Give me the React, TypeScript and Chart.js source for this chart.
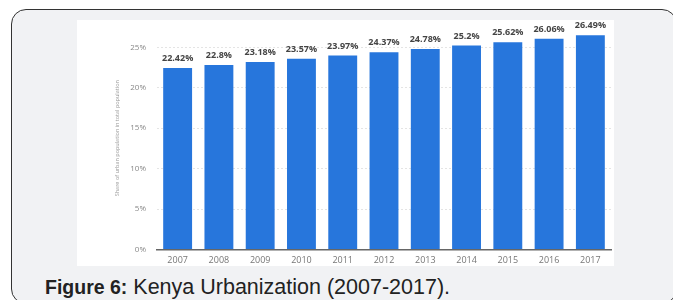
import React, { useEffect, useRef } from "react";
import { Chart, registerables } from "chart.js";

Chart.register(...registerables);

const years = ["2007", "2008", "2009", "2010", "2011", "2012", "2013", "2014", "2015", "2016", "2017"];
const urbanShare = [22.42, 22.8, 23.18, 23.57, 23.97, 24.37, 24.78, 25.2, 25.62, 26.06, 26.49];
const yTickValues = [0, 5, 10, 15, 20, 25];
const yAxisTitle = "Share of urban population in total population";
const captionBold = "Figure 6:";
const captionText = " Kenya Urbanization (2007-2017).";

const valueLabels = {
  id: "valueLabels",
  afterDatasetsDraw(chart: any) {
    const ctx = chart.ctx;
    const meta = chart.getDatasetMeta(0);
    ctx.save();
    ctx.font = 'bold 9px "Open Sans"';
    ctx.fillStyle = "#444";
    ctx.textAlign = "center";
    ctx.textBaseline = "alphabetic";
    meta.data.forEach((bar: any, i: number) => {
      ctx.fillText(String(urbanShare[i]) + "%", bar.x, bar.y - 7);
    });
    ctx.restore();
  },
};

function UrbanChart() {
  const ref = useRef<HTMLCanvasElement | null>(null);
  useEffect(() => {
    if (!ref.current) return;
    const chart = new Chart(ref.current, {
      type: "bar",
      data: {
        labels: years,
        datasets: [
          {
            data: urbanShare,
            backgroundColor: "#2776dc",
            borderWidth: 0,
            barPercentage: 0.7,
            categoryPercentage: 1,
          },
        ],
      },
      options: {
        animation: false,
        responsive: false,
        maintainAspectRatio: false,
        layout: { padding: { top: 7, right: 3, left: 0, bottom: 0 } },
        plugins: { legend: { display: false }, tooltip: { enabled: false } },
        scales: {
          x: {
            grid: { display: false, drawTicks: false },
            border: { display: true, color: "#666", width: 1.5 },
            ticks: {
              color: "#777",
              font: { family: "Open Sans", size: 9 },
              padding: 6,
              maxRotation: 0,
            },
            afterFit: (s: any) => {
              s.height = 16.5;
              s.paddingLeft = 0;
              s.paddingRight = 0;
            },
          },
          y: {
            min: 0,
            max: 27.5,
            afterBuildTicks: (s: any) => {
              s.ticks = yTickValues.map((v) => ({ value: v }));
            },
            ticks: {
              color: "#888",
              font: { family: "Open Sans", size: 8 },
              padding: 11,
              callback: (v: any) => v + "%",
            },
            grid: { color: "#e4e4e4", drawTicks: false },
            border: { display: false, dash: [2, 2] },
            title: {
              display: true,
              text: yAxisTitle,
              color: "#999",
              font: { family: "Open Sans", size: 5.5 },
              padding: { top: 37, bottom: 0 },
            },
            afterFit: (s: any) => {
              s.width = 80;
              s.paddingTop = 0;
              s.paddingBottom = 0;
            },
          },
        },
      },
      plugins: [valueLabels],
    });
    return () => chart.destroy();
  }, []);
  return <canvas ref={ref} width={537} height={246} style={{ width: 537, height: 246, display: "block" }} />;
}

export default function App() {
  return (
    <div
      style={{
        position: "fixed",
        left: 0,
        top: 0,
        width: 673,
        height: 300,
        background: "#ffffff",
        overflow: "hidden",
      }}
    >
      <div
        style={{
          position: "absolute",
          left: 11,
          top: 9,
          width: 666,
          height: 295,
          boxSizing: "border-box",
          border: "1.5px solid #333",
          borderRadius: 15,
          background: "#f1f2f4",
        }}
      />
      <div
        style={{
          position: "absolute",
          left: 77,
          top: 20,
          width: 537,
          height: 246,
          background: "#ffffff",
        }}
      >
        <UrbanChart />
      </div>
      <div
        style={{
          position: "absolute",
          left: 45,
          top: 275.5,
          fontFamily: '"Liberation Sans", Arial, sans-serif',
          fontSize: 21.5,
          lineHeight: "22px",
          color: "#222",
          whiteSpace: "nowrap",
        }}
      >
        <b style={{ fontSize: 19.5 }}>{captionBold}</b>
        {captionText}
      </div>
    </div>
  );
}
